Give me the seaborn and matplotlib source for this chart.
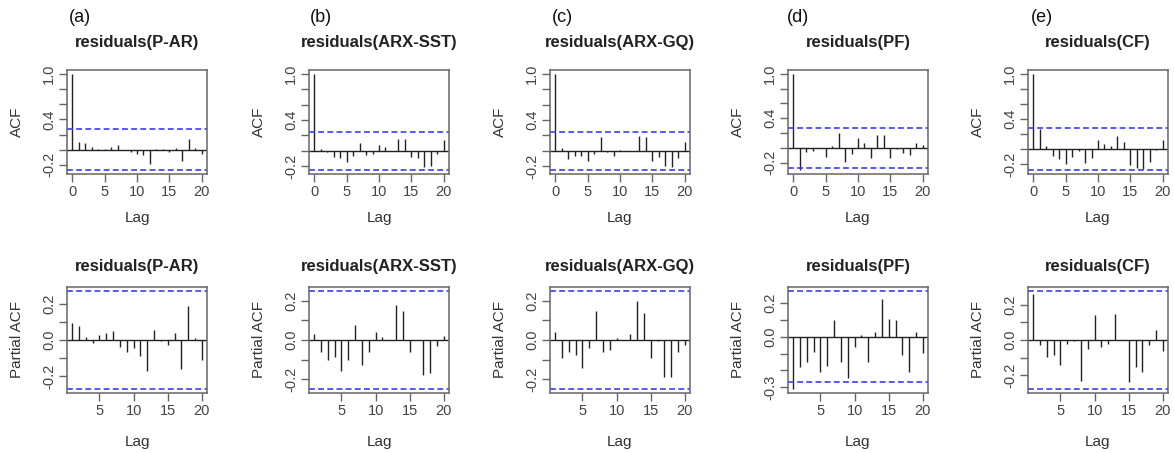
import numpy as np
import pandas as pd
import matplotlib
matplotlib.use('Agg')
import matplotlib.pyplot as plt
import seaborn as sns

models = ['P-AR', 'ARX-SST', 'ARX-GQ', 'PF', 'CF']
panel_tags = ['(a)', '(b)', '(c)', '(d)', '(e)']
conf_limit = [0.27, 0.25, 0.25, 0.27, 0.28]

lags_acf = list(range(0, 21))
lags_pacf = list(range(1, 21))

acf_par = [1.0, 0.095, 0.085, 0.04, 0.01, 0.015, 0.035, 0.06, 0.0, -0.035, -0.06,
           -0.07, -0.185, 0.015, 0.01, -0.03, 0.02, -0.155, 0.135, 0.02, -0.06]
acf_sst = [1.0, 0.03, -0.01, -0.08, -0.09, -0.14, -0.07, 0.10, -0.055, -0.035, 0.07,
           0.045, 0.0, 0.16, 0.16, -0.08, -0.09, -0.21, -0.19, -0.045, 0.135]
acf_gq = [1.0, 0.04, -0.10, -0.07, -0.06, -0.135, -0.04, 0.18, -0.01, -0.06, 0.01,
          0.0, -0.005, 0.195, 0.18, -0.135, -0.08, -0.20, -0.21, -0.09, 0.11]
acf_pf = [1.0, -0.30, -0.05, -0.04, 0.0, -0.12, 0.02, 0.205, -0.185, -0.085, 0.135,
          0.065, -0.14, 0.17, 0.17, -0.14, -0.015, -0.07, -0.095, 0.07, 0.035]
acf_cf = [1.0, 0.27, 0.035, -0.093, -0.128, -0.20, -0.106, -0.022, -0.19, -0.12, 0.115,
          0.07, 0.035, 0.18, 0.10, -0.215, -0.25, -0.26, -0.17, -0.01, 0.115]

pacf_par = [0.093, 0.075, 0.018, -0.018, 0.03, 0.04, 0.048, -0.036, -0.068, -0.046,
            -0.09, -0.17, 0.054, -0.005, -0.028, 0.04, -0.157, 0.185, 0.012, -0.112]
pacf_sst = [0.032, -0.06, -0.10, -0.088, -0.157, -0.10, 0.078, -0.125, -0.06, 0.04,
            0.015, -0.002, 0.18, 0.147, -0.06, 0.0, -0.18, -0.17, -0.03, 0.018]
pacf_gq = [0.042, -0.092, -0.063, -0.075, -0.142, -0.042, 0.15, -0.062, -0.05, 0.008,
           -0.002, 0.032, 0.20, 0.138, -0.092, -0.003, -0.19, -0.19, -0.062, -0.025]
pacf_pf = [-0.31, -0.178, -0.148, -0.088, -0.212, -0.172, 0.096, -0.152, -0.244, -0.064,
           0.012, -0.148, 0.028, 0.222, 0.102, 0.10, -0.108, -0.212, 0.028, -0.094]
pacf_cf = [0.265, -0.028, -0.096, -0.087, -0.143, -0.022, -0.004, -0.235, -0.054, 0.144,
           -0.041, -0.024, 0.148, 0.0, -0.24, -0.152, -0.185, -0.031, 0.057, -0.065]

acf_all = [acf_par, acf_sst, acf_gq, acf_pf, acf_cf]
pacf_all = [pacf_par, pacf_sst, pacf_gq, pacf_pf, pacf_cf]

sns.set_style('ticks')
plt.rcParams['font.family'] = ['Liberation Sans', 'DejaVu Sans']

W, H = 1174, 453
fig = plt.figure(figsize=(W / 100, H / 100), dpi=100)

lefts = [67, 309, 550, 788, 1028]
box_w = 140
rows = [(70, 174), (287, 393)]

ink = '#333333'
blue = '#3a3aff'


def style_axes(ax):
    for s in ax.spines.values():
        s.set_color('#666666')
        s.set_linewidth(1.1)
    ax.tick_params(axis='both', direction='out', length=6, width=1, color='#666666',
                   labelsize=10.5, labelcolor='#444444', pad=2)
    for lab in ax.get_yticklabels():
        lab.set_rotation(90)
        lab.set_va('center')


for i, m in enumerate(models):
    clim = conf_limit[i]
    for r, (kind, lags, vals) in enumerate([('ACF', lags_acf, acf_all[i]),
                                             ('Partial ACF', lags_pacf, pacf_all[i])]):
        top, bot = rows[r]
        ax = fig.add_axes([lefts[i] / W, 1 - bot / H, box_w / W, (bot - top) / H])
        df = pd.DataFrame({'lag': lags, 'value': vals})
        ax.vlines(df['lag'], 0, df['value'], color='#222222', lw=1.0)
        ax.axhline(0, color='#222222', lw=1.0)
        ax.axhline(clim, color=blue, lw=1.2, ls=(0, (3.5, 2)))
        ax.axhline(-clim, color=blue, lw=1.2, ls=(0, (3.5, 2)))

        lo = min(df['value'].min(), -clim)
        hi = 1.0 if kind == 'ACF' else max(df['value'].max(), clim)
        pad = 0.04 * (hi - lo)
        ax.set_ylim(lo - pad, hi + pad)
        xpad = 0.04 * (lags[-1] - lags[0])
        ax.set_xlim(lags[0] - xpad, lags[-1] + xpad)

        if kind == 'ACF':
            ax.set_xticks([0, 5, 10, 15, 20])
            yt = [-0.2, 0.0, 0.2, 0.4, 0.6, 0.8, 1.0]
            shown = {-0.2: '-0.2', 0.4: '0.4', 1.0: '1.0'}
        else:
            ax.set_xticks([5, 10, 15, 20])
            if m == 'PF':
                yt = [-0.3, -0.2, -0.1, 0.0, 0.1, 0.2]
                shown = {-0.3: '-0.3', 0.0: '0.0', 0.2: '0.2'}
            else:
                yt = [-0.2, -0.1, 0.0, 0.1, 0.2]
                shown = {-0.2: '-0.2', 0.0: '0.0', 0.2: '0.2'}
        ax.set_yticks(yt)
        ax.set_yticklabels([shown.get(round(t, 1), '') for t in yt])
        style_axes(ax)

        ax.set_xlabel('Lag', fontsize=11, color=ink)
        ax.set_ylabel(kind, fontsize=11, color=ink)
        hgt = bot - top
        ax.xaxis.set_label_coords(0.5, -(44 if r == 0 else 49) / hgt)
        ax.yaxis.set_label_coords(-50 / box_w, 0.5)
        ax.xaxis.label.set_va('center')
        ax.yaxis.label.set_va('center')

        off = 27 if r == 0 else 21
        ax.text(0.5, 1 + off / hgt, f'residuals({m})', transform=ax.transAxes,
                ha='center', va='center', fontsize=12, fontweight='bold', color='#222222')

    fig.text([80, 321, 562, 798, 1042][i] / W, 1 - 17 / H, panel_tags[i],
             ha='center', va='center', fontsize=13, color='#111111')

fig.savefig('out.png', dpi=100)
